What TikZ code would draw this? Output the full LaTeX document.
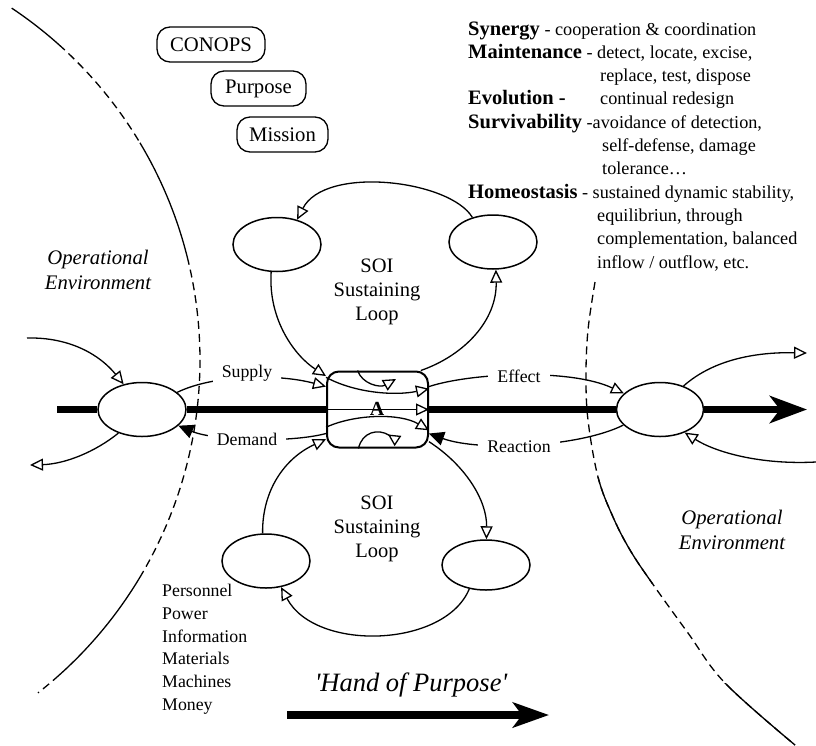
\documentclass[tikz,border=0pt]{standalone}
\usepackage{fontspec}
\setmainfont{Liberation Serif}
\newfontfamily\rawserif{Liberation Serif}[Ligatures=TeXOff]
\usetikzlibrary{arrows.meta, shapes.geometric}

\newcommand{\hd}[1]{{\fontsize{20.5}{22}\selectfont\bfseries #1}}

\begin{document}
\begin{tikzpicture}[x=1pt, y=-1pt,
  every node/.style={font=\fontsize{17.8}{22}\selectfont},
  conn/.style={line width=1.3pt},
  opentip/.style={-{Triangle[open, length=13pt, width=12pt]}},
  backtip/.style={-{Triangle[open, reversed, length=12pt, width=12pt]}},
  filltip/.style={-{Triangle[length=15pt, width=14pt]}},
  oval/.style={ellipse, draw, line width=1.5pt, fill=white, inner sep=0pt,
    minimum width=88pt, minimum height=54pt},
  tag/.style={draw, rounded corners=13pt, line width=1.3pt, minimum height=35pt,
    inner sep=0pt, font=\fontsize{20.7}{22}\selectfont},
  lab/.style={fill=white, inner xsep=9pt, inner ysep=2pt},
  flow/.style={line width=7.3pt},
  bound/.style={line width=1.3pt},
  dashbound/.style={line width=1.3pt, dash pattern=on 8pt off 5pt},
  desc/.style={anchor=base west, inner sep=0pt, font=\fontsize{18.2}{22}\selectfont},
  item/.style={anchor=base west, inner sep=0pt},
  soi/.style={align=center, font=\fontsize{20.5}{24}\selectfont},
  env/.style={align=center, font=\itshape\fontsize{20.7}{25}\selectfont},
]
\useasboundingbox (0,0) rectangle (816,745);

% ---- boundaries of the operational environment ----
\draw[bound]     plot[domain=-56.3:-48.2, samples=20, variable=\t] ({-223+423*cos(\t)}, {360+423*sin(\t)});
\draw[dashbound] plot[domain=-48.2:-30.9, samples=30, variable=\t] ({-223+423*cos(\t)}, {360+423*sin(\t)});
\draw[bound]     plot[domain=-30.9:-14.1, samples=30, variable=\t] ({-223+423*cos(\t)}, {360+423*sin(\t)});
\draw[dashbound] plot[domain=-14.1:30.7, samples=60, variable=\t] ({-223+423*cos(\t)}, {360+423*sin(\t)});
\draw[bound]     plot[domain=30.7:48.2, samples=30, variable=\t] ({-223+423*cos(\t)}, {360+423*sin(\t)});
\draw[dashbound] plot[domain=48.2:51.9, samples=10, variable=\t] ({-223+423*cos(\t)}, {360+423*sin(\t)});

\def\rightedge{plot[smooth, tension=0.6] coordinates {(595,282) (588,330) (586,375) (588,420) (598,477) (613,517) (630,550) (652,583) (688,633) (725,683) (795,745)}}
\draw[dashbound] \rightedge;
\begin{scope}
  \clip (560,477) rectangle (700,583);
  \draw[bound] \rightedge;
\end{scope}
\begin{scope}
  \clip (700,683) rectangle (816,745);
  \draw[bound] \rightedge;
\end{scope}

% ---- nodes ----
\node[oval] (envL) at (142,409.5) {};
\node[oval, minimum width=87pt] (envR) at (660,409.5) {};
\node[draw, line width=2pt, rounded corners=12pt, fill=white, inner sep=0pt,
  minimum width=101pt, minimum height=76pt] (core) at (377.5,409.5) {};
\node[oval] (upL) at (277,244.5) {};
\node[oval] (upR) at (493,242) {};
\node[oval] (loL) at (266,561) {};
\node[oval, minimum height=50pt] (loR) at (486,565) {};

\node[tag, minimum width=108pt] (conops) at (211,44.5) {CONOPS};
\node[tag, minimum width=95pt] (purpose) at (258.5,88.5) {Purpose};
\node[tag, minimum width=91pt] (mission) at (282.5,134.5) {Mission};

\coordinate (flowstart) at (57,409.5);
\coordinate (flowend) at (807,409.5);
\coordinate (inL) at (27,338);
\coordinate (outL) at (30,465);
\coordinate (outR) at (807,353);
\coordinate (inR) at (816,462);
\coordinate (arcT) at (396,379);
\coordinate (arcB) at (398,441);

% ---- main flow ----
\draw[flow] (flowstart) -- (envL.west);
\draw[flow] (envL.east) -- (core.west);
\draw[flow] (core.east) -- (envR.west);
\draw[flow, -{Stealth[length=37pt, width=27pt, inset=10pt]}] (envR.east) -- (flowend);

% ---- exchanges with the environment ----
\draw[conn, opentip] (inL) .. controls (70,337) and (100,355) .. (envL.126);
\draw[conn, opentip] (envL.225) .. controls (95,452) and (65,464) .. (outL);
\draw[conn, opentip] (envR.45) .. controls (715,358) and (760,352) .. (outR);
\draw[conn, opentip] (inR) .. controls (760,465) and (715,452) .. (envR.317);

\draw[conn, opentip] (envL.26) .. controls (215,374) and (280,374) .. (core.156);
\node[lab] (supply) at (247,373) {Supply};
\draw[conn, filltip] (core.205) .. controls (290,443) and (215,441) .. (envL.336.6);
\node[lab] (demand) at (247,439) {Demand};
\draw[conn, opentip] (core.24) .. controls (470,373) and (570,368) .. (envR.156);
\node[lab] (effect) at (519,376) {Effect};
\draw[conn, filltip] (envR.203) .. controls (580,447) and (480,452) .. (core.335);
\node[lab] (reaction) at (519,447) {Reaction};

% ---- sustaining loops ----
\draw[conn, opentip] (upR.130) .. controls (450,180) and (325,165) .. (upL.51);
\draw[conn, opentip] (upL.258) .. controls (268,320) and (295,356) .. (core.147);
\draw[conn, opentip] (core.42) .. controls (465,355) and (497,320) .. (upR.276);
\node[soi] (soiU) at (377,292) {SOI\\Sustaining\\Loop};

\draw[conn, opentip] (core.328) .. controls (465,465) and (487,500) .. (loR.89);
\draw[conn, opentip] (loR.235) .. controls (445,648) and (315,652) .. (loL.300);
\draw[conn, opentip] (loL.97) .. controls (262,490) and (285,458) .. (core.210);
\node[soi] (soiD) at (377,529) {SOI\\Sustaining\\Loop};

% ---- inside the system ----
\draw[conn, opentip] (core.west) -- (core.east);
\draw[conn, opentip] (core.148) .. controls (355,393) and (395,396) .. (core.22);
\draw[conn, opentip] (core.199) .. controls (355,414) and (400,413) .. (core.338);
\draw[conn, opentip] (core.117) .. controls (362,384) and (380,388) .. (arcT);
\draw[conn, backtip] (core.244) .. controls (362,432) and (378,428) .. (arcB);
\node[font=\bfseries\fontsize{20}{20}\selectfont, inner sep=0pt] (alabel) at (377,409) {A};

% ---- texts ----
\node[env] (envtxtL) at (98,270) {Operational\\Environment};
\node[env] (envtxtR) at (732,530) {Operational\\Environment};

\node[desc] (syn) at (468,35) {\hd{Synergy} - cooperation \& coordination};
\node[desc] (mnt) at (468,58.3) {\hd{Maintenance} - detect, locate, excise,};
\node[desc] (mnt2) at (600,81.6) {replace, test, dispose};
\node[desc] (evo) at (468,104.9) {\hd{Evolution -}};
\node[desc] (evo2) at (600,104.9) {continual redesign};
\node[desc] (sur) at (468,128.2) {\hd{Survivability} -avoidance of detection,};
\node[desc] (sur2) at (602,151.5) {self-defense, damage};
\node[desc] (sur3) at (602,174.8) {tolerance…};
\node[desc] (hom) at (468,198.1) {\hd{Homeostasis} - sustained dynamic stability,};
\node[desc] (hom2) at (597,221.4) {equilibriun, through};
\node[desc] (hom3) at (597,244.7) {complementation, balanced};
\node[desc] (hom4) at (597,268) {inflow / outflow, etc.};

\foreach \w [count=\i] in {Personnel, Power, Information, Materials, Machines, Money}
  \node[item] (res\i) at (162, {596.7+22.7*(\i-1)}) {\w};

\node[font=\rawserif\itshape\fontsize{26.5}{30}\selectfont] (hop) at (411,685) {'Hand of Purpose'};
\coordinate (hopA) at (287,715);
\coordinate (hopB) at (549,715);
\draw[flow, -{Stealth[length=36pt, width=25pt, inset=9pt]}] (hopA) -- (hopB);
\end{tikzpicture}
\end{document}
